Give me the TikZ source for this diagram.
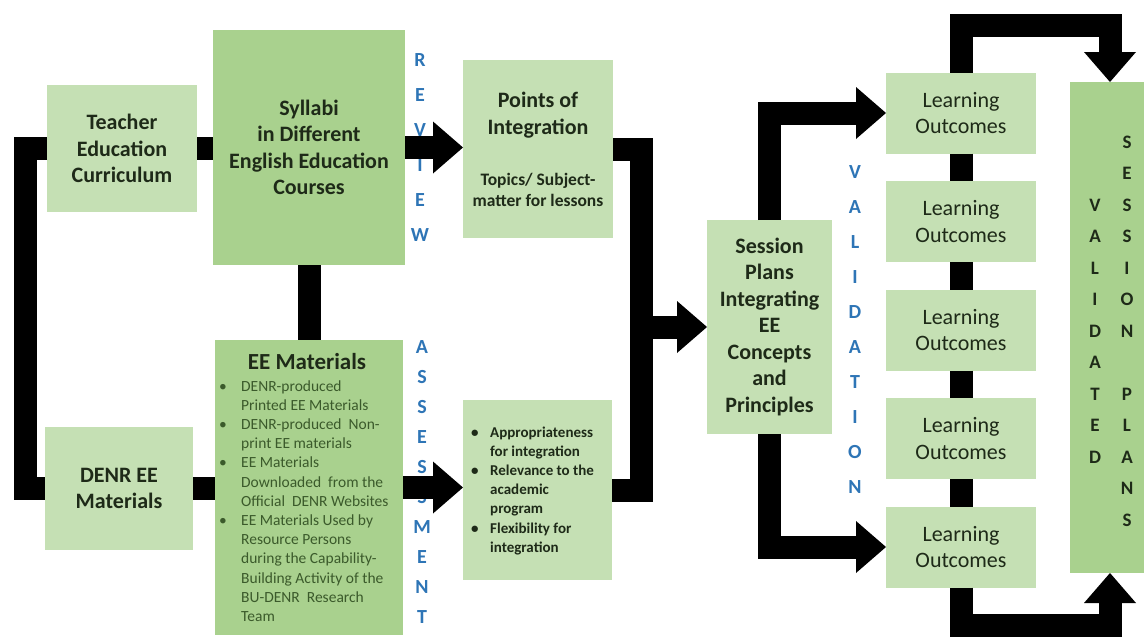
\documentclass[tikz,border=0pt]{standalone}
\usepackage{fontspec}
\setmainfont{Carlito}
\usetikzlibrary{arrows.meta}
\definecolor{lg}{HTML}{C5E0B4}
\definecolor{dg}{HTML}{A9D18E}
\definecolor{blu}{HTML}{2E75B6}
\definecolor{txt}{HTML}{1E2A18}
\definecolor{btxt}{HTML}{3B5A2B}
\begin{document}
\begin{tikzpicture}[x=1pt,y=-1pt,
  box/.style={fill=lg, inner sep=0pt, outer sep=0pt, align=center, text=txt, font=\bfseries\fontsize{22}{26.5}\selectfont},
  dbox/.style={box, fill=dg},
  lobox/.style={box, font=\fontsize{22}{26.5}\selectfont, minimum width=150pt, minimum height=81pt},
  tlabel/.style={inner sep=0pt, outer sep=0pt, align=center, text=txt},
  vlet/.style={text=blu, font=\bfseries\fontsize{20}{35}\selectfont, align=center, inner sep=0pt},
  dlet/.style={tlabel, font=\bfseries\fontsize{19}{31.5}\selectfont},
  conn/.style={draw=black, line width=23pt, line join=miter},
  arr/.style={conn, -{Triangle[length=30pt,width=52pt,line width=0pt]}}
]
\useasboundingbox (0,0) rectangle (1144,637);

% boxes
\node[box, minimum width=150pt, minimum height=127pt] (teacher) at (122,148.5) {Teacher\\Education\\Curriculum};
\node[dbox, minimum width=192pt, minimum height=235pt] (syl) at (309,147.5) {Syllabi\\in Different\\English Education\\Courses};
\node[box, minimum width=150pt, minimum height=178pt] (points) at (538,149) {};
\node[tlabel, font=\bfseries\fontsize{22}{26.5}\selectfont] (ptitle) at (538,115) {Points of\\Integration};
\node[tlabel, font=\bfseries\fontsize{17.5}{20.5}\selectfont] (psub) at (538,190) {Topics/ Subject-\\matter for lessons};
\node[box, minimum width=148pt, minimum height=123pt] (denr) at (119,488.5) {DENR EE\\Materials};
\node[dbox, minimum width=188pt, minimum height=295pt] (ee) at (309,487.5) {};
\node[tlabel, font=\bfseries\fontsize{23}{26}\selectfont] (eehead) at (307,362) {EE Materials};
\node[anchor=base west, inner sep=0pt, text=btxt, font=\fontsize{15.5}{19.2}\selectfont] (eelist) at (219,391) {%
\begin{tabular}[t]{@{}p{22pt}@{}l@{}}
\textbullet & DENR-produced\\
 & Printed EE Materials\\
\textbullet & DENR-produced\ \ Non-\\
 & print EE materials\\
\textbullet & EE Materials\\
 & Downloaded\ \ from the\\
 & Official\ \ DENR Websites\\
\textbullet & EE Materials Used by\\
 & Resource Persons\\
 & during the Capability-\\
 & Building Activity of the\\
 & BU-DENR\ \ Research\\
 & Team
\end{tabular}};
\node[box, minimum width=149pt, minimum height=180pt] (assess) at (537.5,490) {};
\node[anchor=base west, inner sep=0pt, text=txt, font=\bfseries\fontsize{15}{19.2}\selectfont] (alist) at (471,437) {%
\begin{tabular}[t]{@{}p{19pt}@{}l@{}}
\textbullet & Appropriateness\\
 & for integration\\
\textbullet & Relevance to the\\
 & academic\\
 & program\\
\textbullet & Flexibility for\\
 & integration
\end{tabular}};
\node[box, minimum width=125pt, minimum height=214pt] (sess) at (769.5,327) {Session\\Plans\\Integrating\\EE\\Concepts\\and\\Principles};
\node[lobox] (lo1) at (961,113) {Learning\\Outcomes};
\node[lobox] (lo2) at (961,221.5) {Learning\\Outcomes};
\node[lobox] (lo3) at (961,330) {Learning\\Outcomes};
\node[lobox] (lo4) at (961,438.5) {Learning\\Outcomes};
\node[lobox] (lo5) at (961,547) {Learning\\Outcomes};
\node[dbox, minimum width=80pt, minimum height=491pt] (val) at (1110,327.5) {};
\node[dlet] (vtxt) at (1095,331) {V\\A\\L\\I\\D\\A\\T\\E\\D};
\node[dlet] (stxt) at (1127,331) {S\\E\\S\\S\\I\\O\\N\\\mbox{}\\P\\L\\A\\N\\S};

% vertical blue words
\node[vlet] (review) at (420,147.5) {R\\E\\V\\I\\E\\W};
\node[vlet, font=\bfseries\fontsize{20}{30}\selectfont] (assessment) at (422,482) {A\\S\\S\\E\\S\\S\\M\\E\\N\\T};
\node[vlet] (validation) at (855,329.5) {V\\A\\L\\I\\D\\A\\T\\I\\O\\N};

% connectors
\draw[conn] (teacher.west) -- ++(-21.5,0) |- (denr.west);
\draw[conn] (teacher.east) -- (syl.west |- teacher.east);
\draw[arr] (syl.east) -- (points.west |- syl.east);
\draw[conn] (syl.south) -- (ee.north);
\draw[conn] (denr.east) -- (ee.west |- denr.east);
\draw[arr] (ee.east) -- (assess.west |- ee.east);
\draw[conn] (points.east) -- ++(28,0) |- (assess.east);
\coordinate (join) at (641,327);
\draw[arr] (join) -- (sess.west |- join);
\draw[arr] (sess.north) |- (lo1.west);
\draw[arr] (sess.south) |- (lo5.west);
\foreach \a/\b in {lo1/lo2,lo2/lo3,lo3/lo4,lo4/lo5}
  \draw[conn] (\a.south) -- (\b.north);
\draw[arr] (lo1.north) -- ++(0,-47) -| (val.north);
\draw[arr] (lo5.south) -- ++(0,38) -| (val.south);
\end{tikzpicture}
\end{document}
